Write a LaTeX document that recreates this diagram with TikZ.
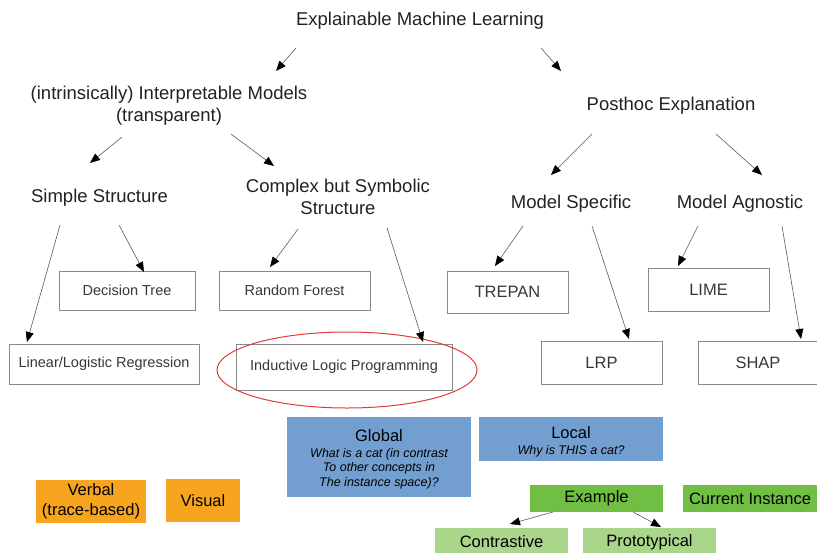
\documentclass[tikz,border=0pt]{standalone}
\usepackage{fontspec}
\setmainfont{Liberation Sans}
\usetikzlibrary{arrows.meta,shapes.geometric}

\definecolor{labeltext}{HTML}{222222}
\definecolor{boxtext}{HTML}{36363F}
\definecolor{boxline}{HTML}{8A8A8A}
\definecolor{arrowline}{HTML}{5A5A5A}
\definecolor{orangefill}{HTML}{F7A51E}
\definecolor{bluefill}{HTML}{729FCF}
\definecolor{greenfill}{HTML}{70BE44}
\definecolor{lightgreen}{HTML}{AAD68C}
\definecolor{ringred}{HTML}{E03A3A}

\newcommand{\notefont}{\fontsize{12.5pt}{14.5pt}\selectfont\itshape}

\tikzset{
  heading/.style={text=labeltext, inner sep=0pt, align=center,
    font=\fontsize{18.5pt}{22pt}\selectfont},
  smallbox/.style={draw=boxline, line width=0.8pt, text=boxtext, inner sep=0pt,
    font=\fontsize{14.5pt}{17pt}\selectfont},
  methodbox/.style={draw=boxline, line width=0.8pt, text=boxtext, inner sep=0pt,
    font=\fontsize{16.5pt}{19pt}\selectfont},
  colorbox/.style={inner sep=0pt, text=black, align=center,
    font=\fontsize{16.5pt}{20pt}\selectfont},
  arr/.style={draw=arrowline, line width=0.6pt,
    -{Triangle[length=10pt,width=8pt,color=black]}},
  ring/.style={draw=ringred, line width=1pt, ellipse, inner sep=0pt}
}

\begin{document}
\begin{tikzpicture}[x={(1pt,0)}, y={(0,-1pt)}]
\useasboundingbox (0,0) rectangle (817,552);

% hierarchy labels
\node[heading] (title)   at (420,20.5)   {Explainable Machine Learning};
\node[heading] (interp)  at (169,105.5)  {(intrinsically) Interpretable Models\\(transparent)};
\node[heading] (posthoc) at (671,105.5)  {Posthoc Explanation};
\node[heading] (simple)  at (99.5,197.5) {Simple Structure};
\node[heading] (complex) at (338,196.5)  {Complex but Symbolic\\Structure};
\node[heading] (specific) at (571,203.5) {Model Specific};
\node[heading] (agnostic) at (740,203.5) {Model Agnostic};

% model boxes
\node[smallbox, minimum width=136, minimum height=39] (dtree)  at (127,290.5)   {Decision Tree};
\node[smallbox, minimum width=151, minimum height=39] (forest) at (294.5,290.5) {Random Forest};
\node[smallbox, minimum width=190, minimum height=40] (linreg) at (104,364)     {Linear/Logistic Regression};
\node[smallbox, minimum width=216, minimum height=46] (ilp)    at (344,367)     {Inductive Logic Programming};
\node[ring, minimum width=260, minimum height=76] (ilpring) at (347,370) {};

\node[methodbox, minimum width=121, minimum height=42] (trepan) at (507.5,292)   {TREPAN};
\node[methodbox, minimum width=121, minimum height=43] (lime)   at (708.5,289.5) {LIME};
\node[methodbox, minimum width=121, minimum height=43] (lrp)    at (601.5,362.5) {LRP};
\node[methodbox, minimum width=120, minimum height=43] (shap)   at (758,362.5)   {SHAP};

% explanation type boxes
\node[colorbox, fill=orangefill, minimum width=110, minimum height=43] (verbal) at (91,501.5) {Verbal\\(trace-based)};
\node[colorbox, fill=orangefill, minimum width=74, minimum height=43]  (visual) at (203,500.5) {Visual};

\node[colorbox, fill=bluefill, minimum width=184, minimum height=80] (global) at (379,457)
  {\rule{0pt}{18pt}Global\\[-4pt]\notefont\begin{tabular}[t]{@{}c@{}}What is a cat (in contrast\\To other concepts in\\The instance space)?\end{tabular}};
\node[colorbox, fill=bluefill, minimum width=184, minimum height=44] (local) at (571,439)
  {\rule{0pt}{20pt}Local\\[-4pt]\notefont\begin{tabular}[t]{@{}c@{}}Why is THIS a cat?\end{tabular}};

\node[colorbox, fill=greenfill, minimum width=133, minimum height=27] (example) at (596.5,498.5) {Example};
\node[colorbox, fill=greenfill, minimum width=134, minimum height=27] (current) at (750,498.5)   {Current Instance};
\node[colorbox, fill=lightgreen, minimum width=133, minimum height=28] (contrast) at (501.5,542) {Contrastive};
\node[colorbox, fill=lightgreen, minimum width=133, minimum height=28] (proto)    at (649.5,542) {Prototypical};

% connectors
\draw[arr] ([shift={(-124,27.5)}]title.center) -- ([shift={(107,-34.5)}]interp.center);
\draw[arr] ([shift={(121,27.5)}]title.center) -- ([shift={(-110,-34.5)}]posthoc.center);
\draw[arr] ([shift={(-47,31.5)}]interp.center) -- ([shift={(-9.5,-34.5)}]simple.center);
\draw[arr] ([shift={(62,28.5)}]interp.center) -- ([shift={(-64,-30.5)}]complex.center);
\draw[arr] ([shift={(-79,28.5)}]posthoc.center) -- ([shift={(-20,-28.5)}]specific.center);
\draw[arr] ([shift={(45,28.5)}]posthoc.center) -- ([shift={(22,-28.5)}]agnostic.center);

\draw[arr] ([shift={(-39.5,27.5)}]simple.center) -- ([shift={(-77,-22)}]linreg.center);
\draw[arr] ([shift={(19.5,27.5)}]simple.center) -- ([shift={(17,-18.5)}]dtree.center);
\draw[arr] ([shift={(-40,32.5)}]complex.center) -- ([shift={(-24.5,-23.5)}]forest.center);
\draw[arr] ([shift={(49,31.5)}]complex.center) -- ([shift={(79,-25)}]ilp.center);

\draw[arr] ([shift={(-48,22.5)}]specific.center) -- ([shift={(-12.5,-26)}]trepan.center);
\draw[arr] ([shift={(21,22.5)}]specific.center) -- ([shift={(27.5,-23.5)}]lrp.center);
\draw[arr] ([shift={(-42,22.5)}]agnostic.center) -- ([shift={(-30.5,-23.5)}]lime.center);
\draw[arr] ([shift={(42,22.5)}]agnostic.center) -- ([shift={(43,-23.5)}]shap.center);

\draw[arr] ([shift={(-43.5,13.5)}]example.center) -- ([shift={(8.5,-18)}]contrast.center);
\draw[arr] ([shift={(36.5,13.5)}]example.center) -- ([shift={(11.5,-15)}]proto.center);
\end{tikzpicture}
\end{document}
